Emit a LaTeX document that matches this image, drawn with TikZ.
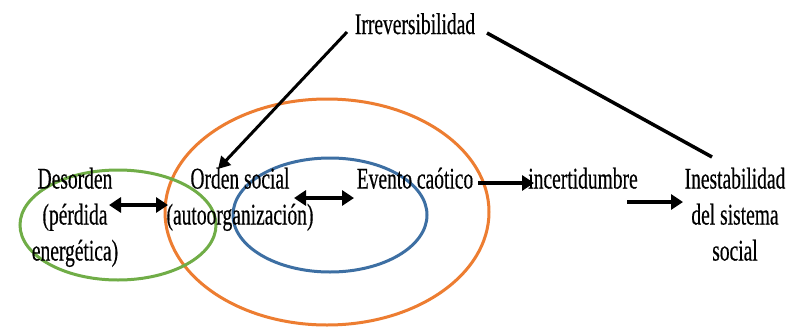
\documentclass[tikz,border=0pt]{standalone}
\usepackage{fontspec}
\setmainfont[FakeStretch=0.65,FakeBold=0.4]{Liberation Serif}
\usetikzlibrary{arrows.meta}
\definecolor{orng}{HTML}{ED7D31}
\definecolor{grn}{HTML}{70AD47}
\definecolor{blu}{HTML}{3D6FA3}
\tikzset{
  lbl/.style={font=\fontsize{30}{36}\selectfont, align=center, inner sep=0pt, anchor=north},
  arr/.style={line width=3.5pt, -{Triangle[length=12pt,width=15pt]}},
  darr/.style={line width=3.5pt, {Triangle[length=12pt,width=15pt]}-{Triangle[length=12pt,width=15pt]}},
  plainline/.style={line width=3.5pt},
  ring/.style={line width=3pt}
}
\begin{document}
\begin{tikzpicture}[x=1pt,y=-1pt]
\fill[white] (0,0) rectangle (806,327);
\useasboundingbox (0,0) rectangle (806,327);
% ellipses
\draw[ring, orng] (327,212) ellipse [x radius=162pt, y radius=113pt];
\draw[ring, blu] (330,215) ellipse [x radius=97pt, y radius=57pt];
\draw[ring, grn] (118,225) ellipse [x radius=98pt, y radius=55pt];
% texts
\node[lbl] (irr) at (415,13) {Irreversibilidad};
\node[lbl] (des) at (75,167.5) {Desorden\\(pérdida\\energética)};
\node[lbl] (ord) at (240,167.5) {Orden social\\(autoorganización)};
\node[lbl] (eve) at (415,167.5) {Evento caótico};
\node[lbl] (inc) at (583,167.5) {incertidumbre};
\node[lbl] (ine) at (735,167.5) {Inestabilidad\\del sistema\\social};
% endpoints
\coordinate (a1) at (109,205);
\coordinate (a2) at (168,205);
\coordinate (b1) at (294,198);
\coordinate (b2) at (354,198);
\coordinate (c1) at (478,183);
\coordinate (c2) at (534,183);
\coordinate (d1) at (627,202);
\coordinate (d2) at (683,202);
\coordinate (e1) at (347,32);
\coordinate (e2) at (218,169);
\coordinate (f1) at (487,33);
\coordinate (f2) at (712,157);
% connectors
\draw[darr] (a1) -- (a2);
\draw[darr] (b1) -- (b2);
\draw[arr] (c1) -- (c2);
\draw[arr] (d1) -- (d2);
\draw[line width=3pt, -{Triangle[length=12pt,width=13pt]}] (e1) -- (e2);
\draw[plainline] (f1) -- (f2);
\end{tikzpicture}
\end{document}
